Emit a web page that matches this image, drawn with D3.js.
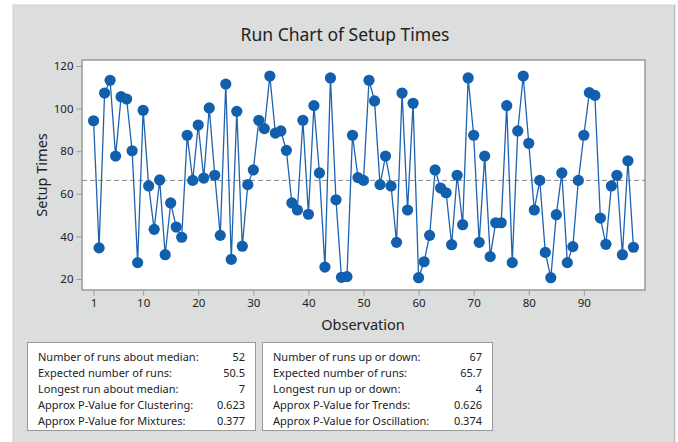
<!DOCTYPE html>
<html><head><meta charset="utf-8">
<script src="https://cdn.jsdelivr.net/npm/d3@7"></script>
<style>body{margin:0;background:#fff}svg{display:block}text{font-family:"Noto Sans","Open Sans",sans-serif;fill:#222}</style>
</head><body><svg id="c" width="678" height="442"></svg>
<script>
const setupTimes = [94.3,34.6,107.3,113.3,77.7,105.6,104.5,80.2,27.7,99.2,
63.7,43.3,66.5,31.4,55.7,44.4,39.6,87.5,66.3,92.3,
67.4,100.3,68.7,40.5,111.5,29.2,98.7,35.4,64.3,71.2,
94.5,90.6,115.3,88.5,89.5,80.4,55.7,52.4,94.5,50.4,
101.4,69.8,25.6,114.4,57.2,20.8,21.1,87.5,67.6,66.3,
113.3,103.6,64.3,77.7,63.7,37.2,107.3,52.4,102.5,20.6,
28.1,40.5,71.2,62.7,60.5,36.1,68.7,45.5,114.4,87.5,
37.2,77.7,30.5,46.4,46.4,101.4,27.7,89.5,115.3,83.7,
52.4,66.3,32.5,20.6,50.2,69.8,27.7,35.2,66.3,87.5,
107.5,106.2,48.6,36.3,63.7,68.7,31.4,75.5,34.9];
const xTicks = [1,10,20,30,40,50,60,70,80,90];
const yTicks = [20,40,60,80,100,120];
const medianValue = 66.3;
const statsLeft = [["Number of runs about median:","52"],["Expected number of runs:","50.5"],["Longest run about median:","7"],["Approx P-Value for Clustering:","0.623"],["Approx P-Value for Mixtures:","0.377"]];
const statsRight = [["Number of runs up or down:","67"],["Expected number of runs:","65.7"],["Longest run up or down:","4"],["Approx P-Value for Trends:","0.626"],["Approx P-Value for Oscillation:","0.374"]];

const svg = d3.select("#c");
svg.append("rect").attr("x",13).attr("y",5).attr("width",662).attr("height",440).attr("fill","#dcdddd").attr("stroke","#cfd0d0");
svg.append("line").attr("x1",674.5).attr("x2",674.5).attr("y1",5).attr("y2",442).attr("stroke","#bbb");

const L=82,T=60,R=645,B=290;
const x = d3.scaleLinear().domain([-1.1,101.1]).range([L,R]);
const y = d3.scaleLinear().domain([20,120]).range([279,66]);

svg.append("rect").attr("x",L).attr("y",T).attr("width",R-L).attr("height",B-T).attr("fill","#fff").attr("stroke","#9a9a9a").attr("stroke-width",1.5);

svg.append("text").attr("x",345).attr("y",41).attr("text-anchor","middle").attr("font-size",17.5).text("Run Chart of Setup Times");

const gx = svg.append("g").attr("transform",`translate(0,${B+0.5})`).call(d3.axisBottom(x).tickValues(xTicks).tickSize(5).tickPadding(3));
const gy = svg.append("g").attr("transform",`translate(${L-0.5},0)`).call(d3.axisLeft(y).tickValues(yTicks).tickSize(5).tickPadding(3));
[gx,gy].forEach(g=>{g.select(".domain").remove();g.selectAll(".tick line").attr("stroke","#999");g.selectAll(".tick text").attr("font-size",11.5).attr("fill","#222").attr("font-family","Noto Sans, sans-serif");});

svg.append("text").attr("x",363).attr("y",330).attr("text-anchor","middle").attr("font-size",14.5).text("Observation");
svg.append("text").attr("transform","translate(47,175) rotate(-90)").attr("text-anchor","middle").attr("font-size",14.5).text("Setup Times");

svg.append("line").attr("x1",L).attr("x2",R).attr("y1",y(medianValue)).attr("y2",y(medianValue)).attr("stroke","#888").attr("stroke-dasharray","5,3").attr("stroke-width",1);

const line = d3.line().x((d,i)=>x(i+1)).y(d=>y(d));
svg.append("path").datum(setupTimes).attr("d",line).attr("fill","none").attr("stroke","#1f63b0").attr("stroke-width",1.3);
svg.append("g").selectAll("circle").data(setupTimes).join("circle").attr("cx",(d,i)=>x(i+1)).attr("cy",d=>y(d)).attr("r",5.6).attr("fill","#125fae");

function box(x0,w,rows){
  svg.append("rect").attr("x",x0+0.5).attr("y",342.5).attr("width",w).attr("height",88).attr("fill","#fff").attr("stroke","#999");
  rows.forEach((r,i)=>{
    svg.append("text").attr("x",x0+11).attr("y",361+i*16).attr("font-size",11).text(r[0]);
    svg.append("text").attr("x",x0+w-10).attr("y",361+i*16).attr("font-size",11).attr("text-anchor","end").text(r[1]);
  });
}
box(27,228,statsLeft);
box(262,230,statsRight);
</script></body></html>
